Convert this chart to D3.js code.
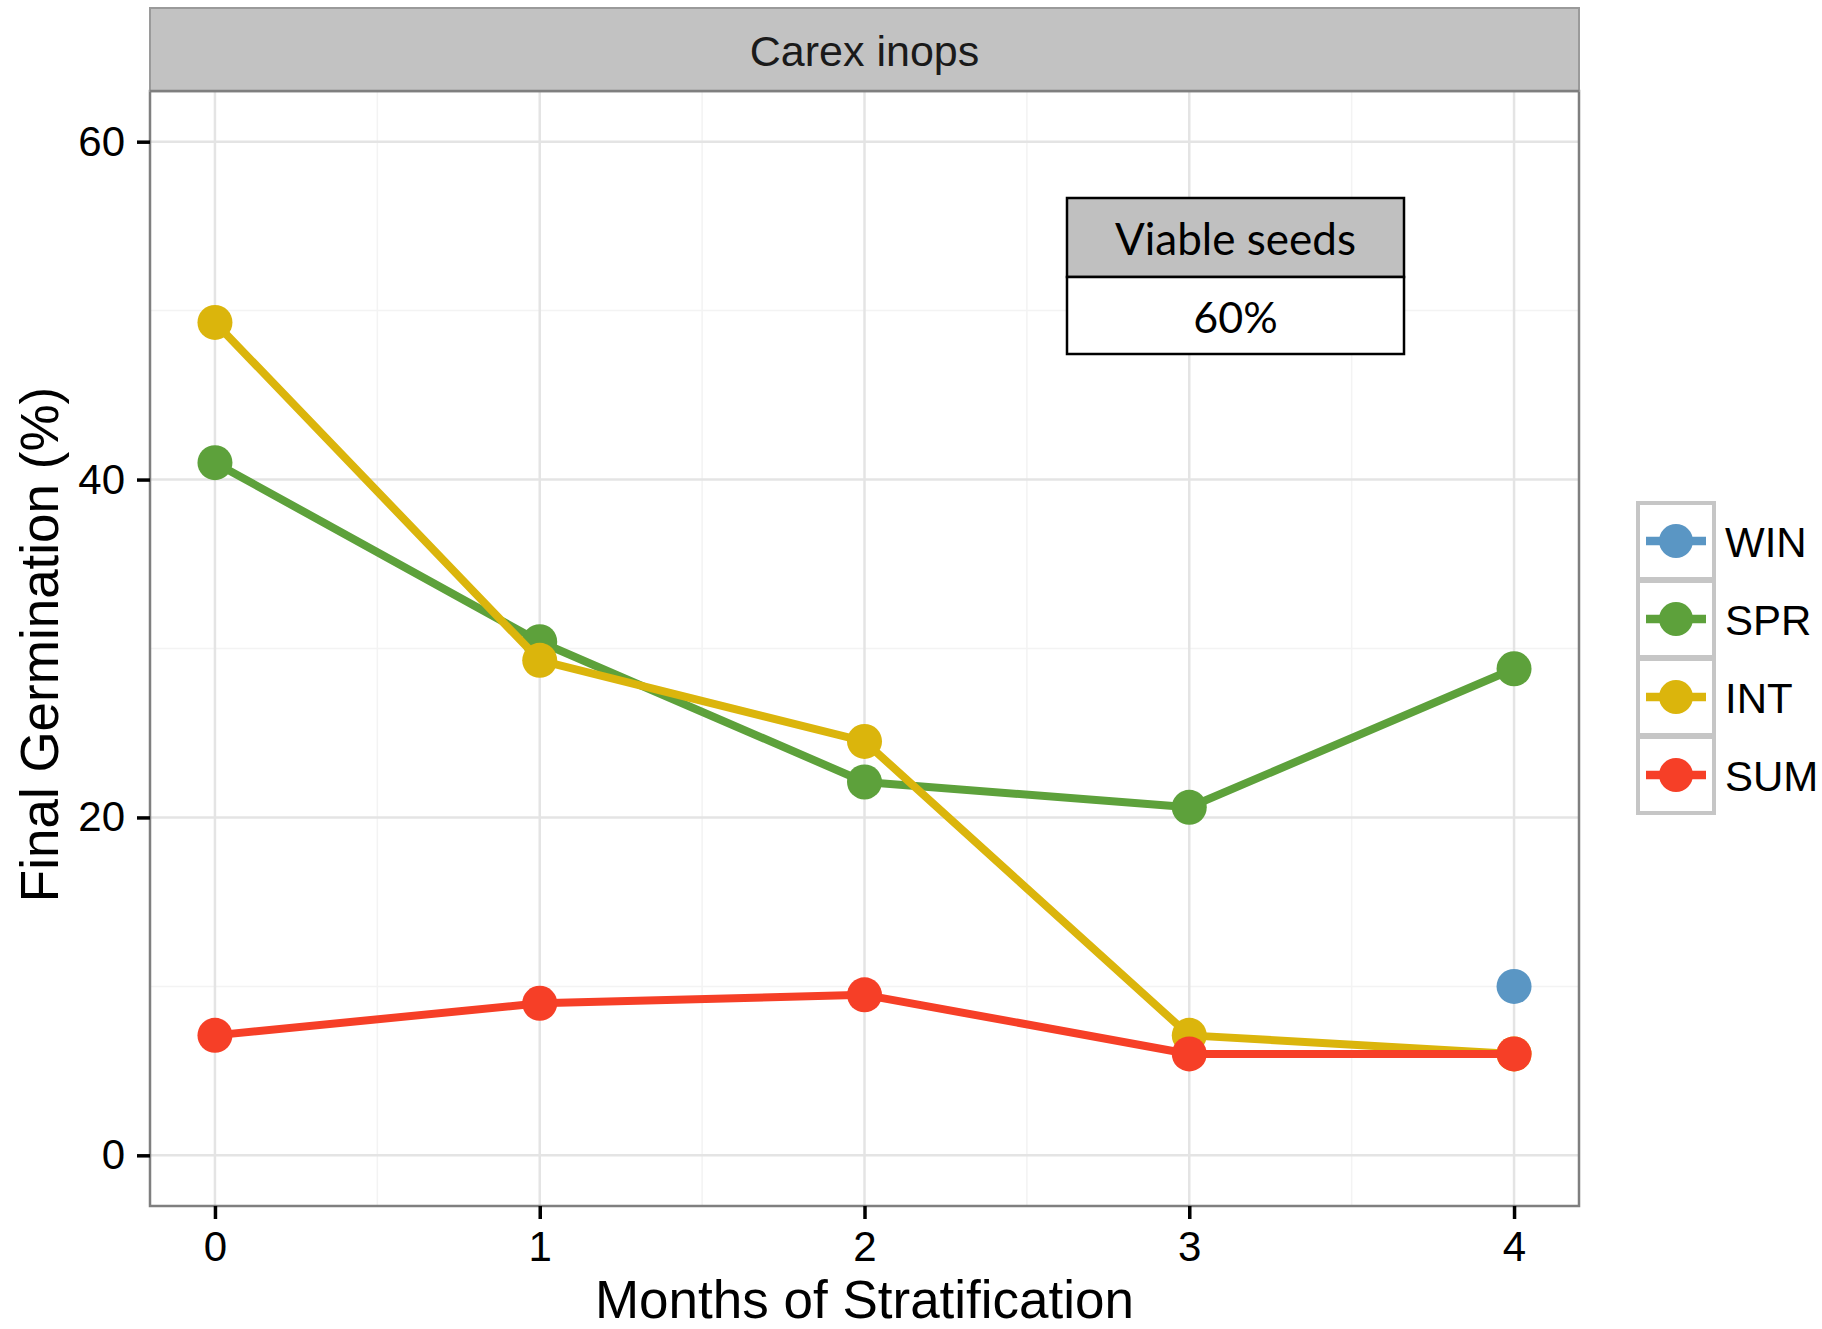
<!DOCTYPE html>
<html>
<head>
<meta charset="utf-8">
<script src="https://cdn.jsdelivr.net/npm/d3@7"></script>
<style>
  html, body { margin: 0; padding: 0; background: #ffffff; }
  svg { display: block; }
</style>
</head>
<body>
<svg id="chart" width="1822" height="1329"></svg>
<script>
// Months of stratification (x positions)
const months = [0, 1, 2, 3, 4];

// Final germination (%) per treatment; null = not measured
const winValues = [null, null, null, null, 10.0];
const sprValues = [41.0, 30.4, 22.1, 20.6, 28.8];
const intValues = [49.3, 29.3, 24.5, 7.1, 6.0];
const sumValues = [7.1, 9.0, 9.5, 6.0, 6.0];

const seriesNames = ["WIN", "SPR", "INT", "SUM"];
const seriesColors = ["#5A96C4", "#5DA13B", "#DBB50C", "#F63F27"];

const yTicks = [0, 20, 40, 60];
const xTicks = [0, 1, 2, 3, 4];

const panelTitle = "Carex inops";
const tableHeader = "Viable seeds";
const tableValue = "60%";

const series = seriesNames.map((name, i) => ({
  name,
  color: seriesColors[i],
  values: [winValues, sprValues, intValues, sumValues][i]
    .map((v, j) => ({ x: months[j], y: v }))
    .filter(d => d.y !== null)
}));

const svg = d3.select("#chart");
const font = "'Liberation Sans', Arial, Helvetica, sans-serif";

// Panel geometry
const panel = { left: 150, right: 1579, top: 91, bottom: 1206 };
const strip = { top: 8, bottom: 91 };

const x = d3.scaleLinear().domain([-0.2, 4.2]).range([panel.left, panel.right]);
const y = d3.scaleLinear().domain([-3, 63]).range([panel.bottom, panel.top]);

// Panel background
svg.append("rect")
  .attr("x", panel.left).attr("y", panel.top)
  .attr("width", panel.right - panel.left).attr("height", panel.bottom - panel.top)
  .attr("fill", "#ffffff");

// Grid lines: minor then major
const grid = svg.append("g");
const minorX = [0.5, 1.5, 2.5, 3.5];
const minorY = [10, 30, 50];
grid.selectAll(".mx").data(minorX).enter().append("line")
  .attr("x1", d => x(d)).attr("x2", d => x(d))
  .attr("y1", panel.top).attr("y2", panel.bottom)
  .attr("stroke", "#f3f3f3").attr("stroke-width", 1.5);
grid.selectAll(".my").data(minorY).enter().append("line")
  .attr("x1", panel.left).attr("x2", panel.right)
  .attr("y1", d => y(d)).attr("y2", d => y(d))
  .attr("stroke", "#f3f3f3").attr("stroke-width", 1.5);
grid.selectAll(".gx").data(xTicks).enter().append("line")
  .attr("x1", d => x(d)).attr("x2", d => x(d))
  .attr("y1", panel.top).attr("y2", panel.bottom)
  .attr("stroke", "#e4e4e4").attr("stroke-width", 2.5);
grid.selectAll(".gy").data(yTicks).enter().append("line")
  .attr("x1", panel.left).attr("x2", panel.right)
  .attr("y1", d => y(d)).attr("y2", d => y(d))
  .attr("stroke", "#e4e4e4").attr("stroke-width", 2.5);

// Lines and points, one treatment at a time
const line = d3.line().x(d => x(d.x)).y(d => y(d.y));
series.forEach(s => {
  const g = svg.append("g");
  if (s.values.length > 1) {
    g.append("path").datum(s.values)
      .attr("d", line)
      .attr("fill", "none")
      .attr("stroke", s.color)
      .attr("stroke-width", 8)
      .attr("stroke-linejoin", "round");
  }
  g.selectAll("circle").data(s.values).enter().append("circle")
    .attr("cx", d => x(d.x)).attr("cy", d => y(d.y))
    .attr("r", 17.5)
    .attr("fill", s.color);
});

// Panel border
svg.append("rect")
  .attr("x", panel.left).attr("y", panel.top)
  .attr("width", panel.right - panel.left).attr("height", panel.bottom - panel.top)
  .attr("fill", "none").attr("stroke", "#7f7f7f").attr("stroke-width", 2.5);

// Facet strip
svg.append("rect")
  .attr("x", panel.left).attr("y", strip.top)
  .attr("width", panel.right - panel.left).attr("height", strip.bottom - strip.top)
  .attr("fill", "#c2c2c2").attr("stroke", "#9a9a9a").attr("stroke-width", 2);
svg.append("line")
  .attr("x1", panel.left).attr("x2", panel.right)
  .attr("y1", strip.bottom).attr("y2", strip.bottom)
  .attr("stroke", "#7f7f7f").attr("stroke-width", 2.5);
svg.append("text")
  .attr("x", (panel.left + panel.right) / 2).attr("y", (strip.top + strip.bottom) / 2 + 1)
  .attr("text-anchor", "middle").attr("dominant-baseline", "central")
  .attr("font-family", font).attr("font-size", 43).attr("fill", "#1a1a1a")
  .text(panelTitle);

// Axes
const xAxis = d3.axisBottom(x).tickValues(xTicks).tickSize(13).tickPadding(12).tickFormat(d3.format("d"));
const yAxis = d3.axisLeft(y).tickValues(yTicks).tickSize(13).tickPadding(12).tickFormat(d3.format("d"));

const gx = svg.append("g").attr("transform", `translate(0,${panel.bottom})`).call(xAxis);
const gy = svg.append("g").attr("transform", `translate(${panel.left},0)`).call(yAxis);
[gx, gy].forEach(g => {
  g.select(".domain").remove();
  g.selectAll(".tick line").attr("stroke", "#000").attr("stroke-width", 3.5);
  g.selectAll(".tick text").attr("font-family", font).attr("font-size", 42).attr("fill", "#000");
});

// Axis titles
svg.append("text")
  .attr("x", (panel.left + panel.right) / 2).attr("y", 1318)
  .attr("text-anchor", "middle")
  .attr("font-family", font).attr("font-size", 53).attr("fill", "#000")
  .text("Months of Stratification");
svg.append("text")
  .attr("transform", `translate(58,${(panel.top + panel.bottom) / 2 - 4}) rotate(-90)`)
  .attr("text-anchor", "middle")
  .attr("font-family", font).attr("font-size", 53).attr("fill", "#000")
  .text("Final Germination (%)");

// Viable seeds table
const tbl = { left: 1067, right: 1404, top: 198, mid: 277, bottom: 354 };
const tfont = "Lato, 'Open Sans', sans-serif";
svg.append("rect")
  .attr("x", tbl.left).attr("y", tbl.top)
  .attr("width", tbl.right - tbl.left).attr("height", tbl.mid - tbl.top)
  .attr("fill", "#c0c0c0").attr("stroke", "#000").attr("stroke-width", 2.5);
svg.append("rect")
  .attr("x", tbl.left).attr("y", tbl.mid)
  .attr("width", tbl.right - tbl.left).attr("height", tbl.bottom - tbl.mid)
  .attr("fill", "#ffffff").attr("stroke", "#000").attr("stroke-width", 2.5);
svg.append("text")
  .attr("x", (tbl.left + tbl.right) / 2).attr("y", (tbl.top + tbl.mid) / 2)
  .attr("text-anchor", "middle").attr("dominant-baseline", "central")
  .attr("font-family", tfont).attr("font-size", 44).attr("fill", "#000")
  .text(tableHeader);
svg.append("text")
  .attr("x", (tbl.left + tbl.right) / 2).attr("y", (tbl.mid + tbl.bottom) / 2 + 1)
  .attr("text-anchor", "middle").attr("dominant-baseline", "central")
  .attr("font-family", tfont).attr("font-size", 43).attr("fill", "#000")
  .text(tableValue);

// Legend
const legend = svg.append("g").attr("transform", "translate(1638,503)");
const keySize = 76, keyStep = 78;
series.forEach((s, i) => {
  const g = legend.append("g").attr("transform", `translate(0,${i * keyStep})`);
  g.append("rect")
    .attr("x", 0).attr("y", 0).attr("width", keySize).attr("height", keySize)
    .attr("fill", "#ffffff").attr("stroke", "#c6c6c6").attr("stroke-width", 4);
  g.append("line")
    .attr("x1", 8).attr("x2", 68).attr("y1", keySize / 2).attr("y2", keySize / 2)
    .attr("stroke", s.color).attr("stroke-width", 8.5);
  g.append("circle")
    .attr("cx", keySize / 2).attr("cy", keySize / 2).attr("r", 17)
    .attr("fill", s.color);
  g.append("text")
    .attr("x", 87).attr("y", keySize / 2 + 1)
    .attr("dominant-baseline", "central")
    .attr("font-family", font).attr("font-size", 42).attr("fill", "#000")
    .text(s.name);
});
</script>
</body>
</html>
